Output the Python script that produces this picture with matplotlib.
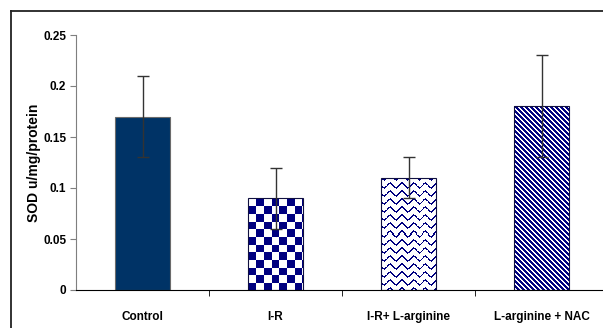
import numpy as np
import matplotlib
matplotlib.use("Agg")
import matplotlib.pyplot as plt
from matplotlib.lines import Line2D

# Data
groups = ["Control", "I-R", "I-R+ L-arginine", "L-arginine + NAC"]
sod_mean = [0.17, 0.09, 0.11, 0.18]
sod_err = [0.04, 0.03, 0.02, 0.05]
fills = ["solid", "checker", "wave", "stripe"]

navy = "#000080"
plt.rcParams["font.family"] = ["Liberation Sans", "DejaVu Sans"]
plt.rcParams["font.weight"] = "bold"

W, H, DPI = 603, 328, 100
fig = plt.figure(figsize=(W / DPI, H / DPI), dpi=DPI)
ax = fig.add_axes([76 / W, 38 / H, 532 / W, 255 / H])

ax.set_xlim(-0.5, 3.5)
ax.set_ylim(0, 0.25)
x = np.arange(len(groups))
bar_w = 0.41


def pattern_image(kind, nx, ny):
    # pixel texture: navy on white
    jj, ii = np.meshgrid(np.arange(nx), np.arange(ny))
    if kind == "checker":
        s = 7.7
        m = ((np.floor(jj / s) + np.floor(ii / s)) % 2).astype(bool)
    elif kind == "wave":
        yy = ii - 2.2 * np.sin(2 * np.pi * jj / 11.7)
        d = np.abs(((yy + 4) % 8) - 4)
        m = d < 0.9
    else:
        p = 5
        m = ((jj - ii) % p) < 2.6
    img = np.ones((ny, nx, 3))
    img[m] = np.array(matplotlib.colors.to_rgb(navy))
    return img


px_per_x = 532 / 4.0
px_per_y = 255 / 0.25

for xi, val, kind in zip(x, sod_mean, fills):
    if kind == "solid":
        ax.bar(xi, val, bar_w, color="#003366", edgecolor="#6b6b6b",
               linewidth=0.8, zorder=2)
        continue
    bar = ax.bar(xi, val, bar_w, facecolor="none", edgecolor="#101040",
                 linewidth=0.8, zorder=2)[0]
    nx = int(round(bar_w * px_per_x))
    ny = int(round(val * px_per_y))
    im = ax.imshow(pattern_image(kind, nx, ny), extent=(xi - bar_w / 2, xi + bar_w / 2, 0, val),
                   origin="upper", interpolation="nearest", aspect="auto", zorder=1)
    im.set_clip_path(bar)

ax.errorbar(x, sod_mean, yerr=sod_err, fmt="none", ecolor="#333333",
            elinewidth=1, capsize=4, capthick=1, zorder=3)

# axes styling
for s in ["top", "right"]:
    ax.spines[s].set_visible(False)
ax.spines["left"].set_color("#7f7f7f")
ax.spines["bottom"].set_color("black")

ax.set_yticks([0, 0.05, 0.1, 0.15, 0.2, 0.25])
ax.set_yticklabels(["0", "0.05", "0.1", "0.15", "0.2", "0.25"])
ax.tick_params(axis="y", length=4, color="#7f7f7f", labelsize=8.5, pad=3)

ax.set_xticks(x)
ax.set_xticklabels(groups)
ax.set_xticks([0.5, 1.5, 2.5], minor=True)
ax.tick_params(axis="x", which="major", length=0, labelsize=8.5, pad=15)
ax.tick_params(axis="x", which="minor", length=4, color="black")

ax.set_ylabel("SOD u/mg/protein", fontsize=10, fontweight="bold")
ax.yaxis.set_label_coords(-0.066, 0.5)

# outer frame (top and left visible in the crop)
fig.add_artist(Line2D([10.5 / W, 1.0], [1 - 10.5 / H] * 2, color="#222222", lw=1.3,
                      transform=fig.transFigure))
fig.add_artist(Line2D([10.5 / W] * 2, [0, 1 - 10.5 / H], color="#222222", lw=1.3,
                      transform=fig.transFigure))

fig.savefig("out.png", dpi=DPI)
